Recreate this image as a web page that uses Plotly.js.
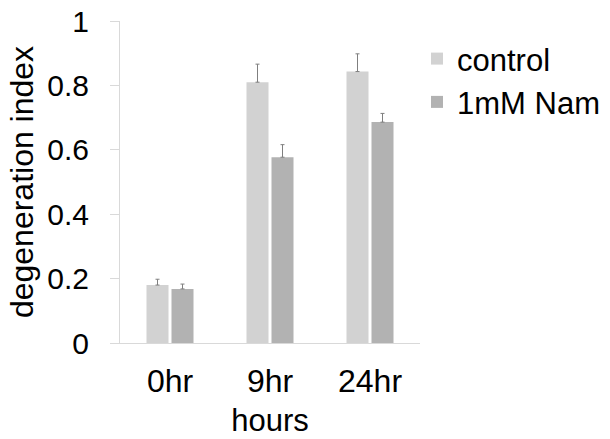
<!DOCTYPE html>
<html>
<head>
<meta charset="utf-8">
<script src="https://cdn.plot.ly/plotly-3.0.1.min.js"></script>
<style>
  html, body { margin: 0; padding: 0; background: #fff; }
  #grafico { width: 610px; height: 439px; }
</style>
</head>
<body>
<div id="grafico"></div>
<script>
// categorias e valores
const horas = ['0hr', '9hr', '24hr'];
const controle = [0.180, 0.810, 0.843];
const controleErro = [0.018, 0.056, 0.055];
const nam = [0.168, 0.577, 0.686];
const namErro = [0.015, 0.039, 0.027];
const yTicks = [0, 0.2, 0.4, 0.6, 0.8, 1];
const yTickText = ['0', '0.2', '0.4', '0.6', '0.8', '1'];

const fonte = 'Liberation Sans, Arial, sans-serif';

const dados = [
    {
        x: horas,
        y: controle,
        name: 'control',
        type: 'bar',
        legendgroup: 'a',
        marker: { color: '#d2d2d2' },
        error_y: { type: 'data', array: controleErro, symmetric: false, arrayminus: [0, 0, 0],
                   color: '#7f7f7f', thickness: 1, width: 2 }
    },
    {
        x: horas,
        y: nam,
        name: '1mM Nam',
        type: 'bar',
        legendgroup: 'b',
        marker: { color: '#b2b2b2' },
        error_y: { type: 'data', array: namErro, symmetric: false, arrayminus: [0, 0, 0],
                   color: '#7f7f7f', thickness: 1, width: 2 }
    }
];

const layout = {
    width: 610,
    height: 439,
    margin: { l: 120, r: 190, t: 21, b: 96, autoexpand: false },
    barmode: 'group',
    bargap: 0.5,
    bargroupgap: 0.12,
    font: { family: fonte, size: 31, color: '#000' },
    plot_bgcolor: '#fff',
    paper_bgcolor: '#fff',
    xaxis: {
        title: { text: 'hours', font: { family: fonte, size: 31 }, standoff: 10 },
        range: [-0.5, 2.5],
        showline: true,
        linecolor: '#d9d9d9',
        linewidth: 1,
        ticks: '',
        showgrid: false,
        ticklabelstandoff: 10,
        tickfont: { family: fonte, size: 32 },
        fixedrange: true
    },
    yaxis: {
        title: { text: 'degeneration index', font: { family: fonte, size: 32 }, standoff: 4 },
        range: [0, 1],
        tickvals: yTicks,
        ticktext: yTickText,
        showline: true,
        linecolor: '#d9d9d9',
        linewidth: 1,
        ticks: 'outside',
        ticklen: 9,
        tickcolor: '#d9d9d9',
        ticklabelstandoff: 15,
        showgrid: false,
        zeroline: false,
        tickfont: { family: fonte, size: 30 },
        fixedrange: true
    },
    showlegend: true,
    legend: {
        x: 0.99,
        xanchor: 'left',
        y: 0.966,
        yanchor: 'top',
        tracegroupgap: 0,
        font: { family: fonte, size: 31 },
        bgcolor: 'rgba(0,0,0,0)'
    }
};

Plotly.newPlot('grafico', dados, layout, { displayModeBar: false, staticPlot: true });
</script>
</body>
</html>
